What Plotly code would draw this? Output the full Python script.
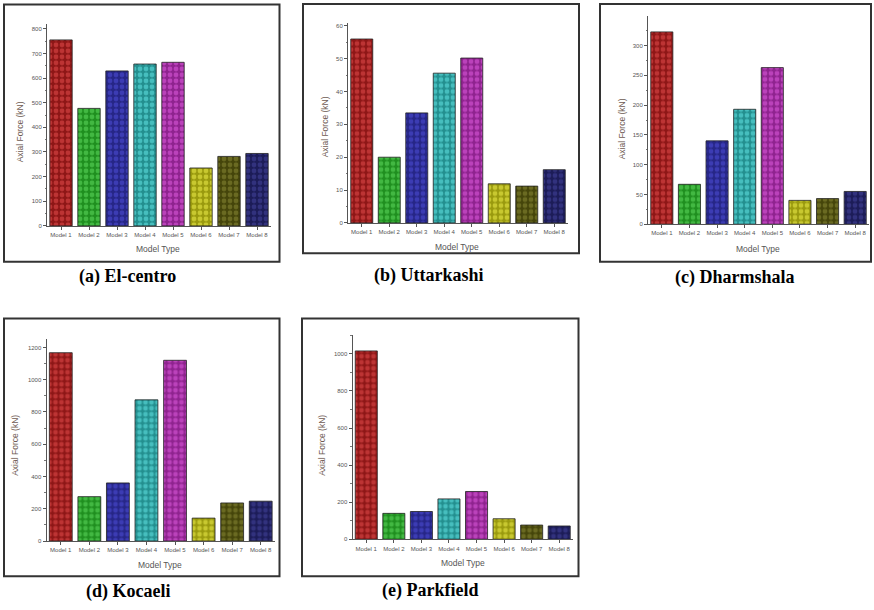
import plotly.graph_objects as go

W, H = 874, 610

categories = ["Model 1", "Model 2", "Model 3", "Model 4", "Model 5", "Model 6", "Model 7", "Model 8"]
el_centro = [755, 477, 629, 657, 664, 235, 282, 294]
uttarkashi = [56.0, 20.0, 33.5, 45.6, 50.2, 11.9, 11.2, 16.2]
dharmshala = [323, 67, 140, 193, 263, 40, 43, 55]
kocaeli = [1167, 275, 360, 875, 1120, 142, 236, 247]
parkfield = [1016, 140, 150, 218, 258, 111, 77, 72]
panel_labels = ["(a) El-centro", "(b) Uttarkashi", "(c) Dharmshala", "(d) Kocaeli", "(e) Parkfield"]
y_title = "Axial Force (kN)"
x_title = "Model Type"

base_colors = ["#8e1616", "#1f8f1f", "#262687", "#238f8f", "#8f238f", "#9a9a0e", "#45450a", "#1c1c58"]
dot_colors = ["#bd3434", "#42b842", "#3c3cb4", "#46bebe", "#bb42bb", "#c8c830", "#6a6a22", "#32327e"]

series = [el_centro, uttarkashi, dharmshala, kocaeli, parkfield]

geo = [
    dict(x0=47, x1=271, yb=227, yt=24, rmax=820, dtick=100),
    dict(x0=348, x1=568, yb=224, yt=22.7, rmax=61, dtick=10),
    dict(x0=648, x1=869, yb=225.3, yt=16.5, rmax=349, dtick=50),
    dict(x0=46.5, x1=275, yb=543.7, yt=341, rmax=1250, dtick=200),
    dict(x0=352.5, x1=573, yb=542, yt=337, rmax=1100, dtick=200),
]
frames = [(4, 4.5, 279.5, 263), (303, 4, 579, 254.5), (600, 4, 871, 263), (4, 320, 279.5, 579), (302, 320, 578.5, 579)]
label_pos = [(127, 278), (429, 277), (735, 279), (127.5, 594), (430, 593)]
ytitle_pos = [(20, 133), (325, 128), (622, 130), (15, 448), (322, 448)]
xtitle_pos = [(158, 250), (457, 248), (758, 250), (160, 568), (463, 566)]

def px(x):
    return x / W

def py(y):
    return 1 - y / H

fig = go.Figure()
layout = dict(
    width=W, height=H, margin=dict(l=0, r=0, t=0, b=0),
    paper_bgcolor="white", plot_bgcolor="white", showlegend=False,
    barmode="overlay",
)
annotations = []
shapes = []
for i, (vals, g) in enumerate(zip(series, geo)):
    n = "" if i == 0 else str(i + 1)
    for j, cat in enumerate(categories):
        fig.add_trace(go.Bar(
            x=[cat], y=[vals[j]], xaxis="x" + n, yaxis="y" + n,
            marker=dict(
                color=base_colors[j],
                line=dict(color="#222222", width=0.8),
                pattern=dict(shape=".", fillmode="replace", bgcolor=base_colors[j],
                             fgcolor=dot_colors[j], fgopacity=1, size=6, solidity=0.5),
            ),
            width=0.8, opacity=1,
        ))
    layout["xaxis" + n] = dict(
        domain=[px(g["x0"]), px(g["x1"])], anchor="y" + n,
        type="category", categoryorder="array", categoryarray=categories,
        range=[-0.5, 7.5],
        showline=True, linecolor="#555555", linewidth=1,
        ticks="outside", ticklen=3, tickcolor="#555555",
        tickfont=dict(family="Liberation Sans", size=6, color="#555555"),
        showgrid=False, zeroline=False, fixedrange=True,
    )
    layout["yaxis" + n] = dict(
        domain=[py(g["yb"]), py(g["yt"])], anchor="x" + n,
        range=[0, g["rmax"]], dtick=g["dtick"], tick0=0,
        showline=True, linecolor="#555555", linewidth=1,
        ticks="outside", ticklen=3, tickcolor="#555555",
        tickfont=dict(family="Liberation Sans", size=6, color="#555555"),
        showgrid=False, zeroline=False,
        minor=dict(dtick=g["dtick"] / 2, ticks="outside", ticklen=1.5, tickcolor="#777777"),
    )
    fx0, fy0, fx1, fy1 = frames[i]
    shapes.append(dict(type="rect", xref="paper", yref="paper",
                       x0=px(fx0), x1=px(fx1), y0=py(fy1), y1=py(fy0),
                       line=dict(color="#333333", width=2)))
    lx, ly = label_pos[i]
    annotations.append(dict(text="<b>" + panel_labels[i] + "</b>", x=px(lx), y=py(ly),
                            xref="paper", yref="paper", showarrow=False,
                            font=dict(family="Liberation Serif", size=18, color="black"),
                            xanchor="center", yanchor="middle"))
    tx, ty = ytitle_pos[i]
    annotations.append(dict(text=y_title, x=px(tx), y=py(ty), xref="paper", yref="paper",
                            showarrow=False, textangle=-90,
                            font=dict(family="Liberation Sans", size=8.5, color="#6e5a52"),
                            xanchor="center", yanchor="middle"))
    mx, my = xtitle_pos[i]
    annotations.append(dict(text=x_title, x=px(mx), y=py(my), xref="paper", yref="paper",
                            showarrow=False,
                            font=dict(family="Liberation Sans", size=8.5, color="#555555"),
                            xanchor="center", yanchor="middle"))

layout["annotations"] = annotations
layout["shapes"] = shapes
fig.update_layout(**layout)
fig.write_html("out.html", config={"displayModeBar": False},
               post_script="document.body.style.margin='0';document.body.style.overflow='hidden';")
